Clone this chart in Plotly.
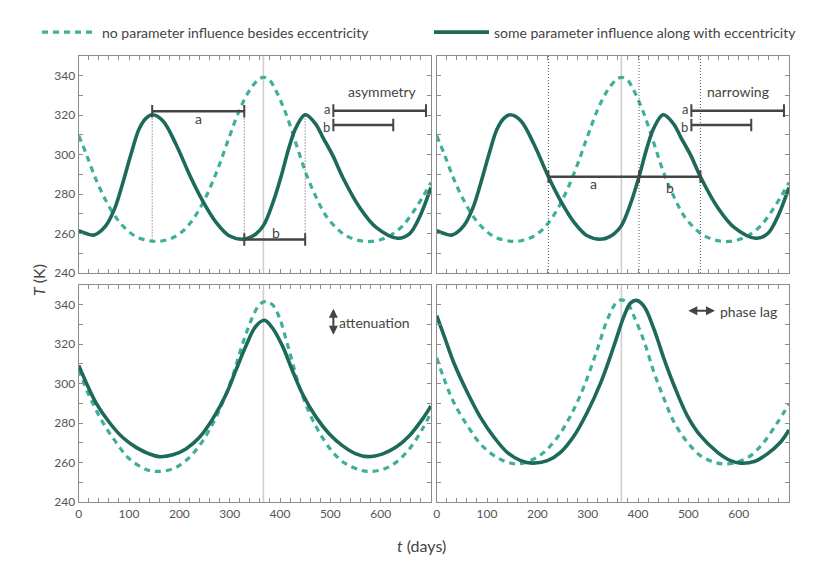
import plotly.graph_objects as go
from plotly.subplots import make_subplots

# ---- data (t in days, T in K) ----
# top panels (asymmetry / narrowing) share the same two curves
top_solid_t = [0, 15, 31, 54, 71, 87, 104, 120, 134, 146, 167, 193, 222, 246, 273, 299, 329,
               352, 367, 385, 402, 418, 432, 450, 471, 485, 505, 524, 558, 591, 634, 657, 677, 700]
top_solid_T = [261.5, 260.0, 259.3, 264.0, 272.4, 285.1, 300.3, 313.0, 318.5, 320.2, 317.2, 305.4,
               288.8, 276.7, 265.7, 258.9, 257.2, 259.8, 264.0, 275.0, 288.8, 303.7, 313.8, 320.2,
               315.5, 308.8, 299.5, 288.8, 273.3, 263.1, 257.6, 259.8, 268.2, 283.4]

top_dash_t = [0, 15, 34, 54, 74, 94, 114, 134, 157, 180, 200, 220, 240, 260, 280, 299, 319, 339,
              356, 367, 379, 392, 412, 432, 452, 472, 491, 511, 531, 558, 581, 604, 624, 644, 664, 683, 700]
top_dash_T = [309.6, 300.3, 287.6, 276.7, 268.2, 262.3, 258.4, 256.7, 256.0, 257.2, 259.8, 264.8,
              272.4, 282.6, 295.2, 308.8, 322.3, 332.4, 337.8, 339.2, 337.8, 332.4, 320.6, 305.4,
              290.2, 278.3, 269.1, 263.1, 258.9, 256.4, 256.0, 257.2, 259.8, 264.0, 270.7, 278.3, 285.9]

# bottom left (attenuation)
att_solid_t = [0, 15, 34, 61, 87, 114, 140, 160, 187, 213, 240, 266, 293, 313, 332, 352, 369,
               385, 405, 425, 445, 472, 498, 524, 551, 574, 604, 630, 657, 683, 700]
att_solid_T = [309.2, 300.5, 290.4, 280.3, 272.8, 267.7, 264.4, 263.0, 263.9, 266.9, 272.8, 282.0,
               294.6, 307.2, 319.0, 329.1, 332.1, 328.2, 319.0, 306.4, 294.6, 282.9, 274.5, 268.6,
               264.4, 263.0, 264.4, 267.7, 273.6, 282.0, 288.7]

att_dash_t = [0, 21, 48, 74, 101, 134, 157, 187, 213, 240, 266, 286, 306, 319, 333, 346, 359, 372,
              385, 399, 412, 425, 438, 458, 478, 505, 531, 558, 574, 604, 631, 657, 683, 700]
att_dash_T = [307.0, 293.8, 280.3, 270.3, 261.8, 256.5, 255.5, 256.8, 261.0, 268.6, 279.5, 290.4,
              303.9, 314.8, 325.7, 334.1, 340.0, 341.7, 340.0, 333.3, 322.4, 310.6, 298.8, 285.4,
              275.3, 265.2, 259.3, 256.3, 255.5, 256.5, 260.2, 266.9, 277.0, 285.4]

# bottom right (phase lag)
lag_solid_t = [0, 15, 34, 61, 87, 114, 140, 167, 190, 220, 246, 273, 299, 326, 352, 372, 385,
               397, 412, 432, 452, 472, 498, 524, 558, 584, 604, 631, 657, 683, 700]
lag_solid_T = [334.5, 324.0, 310.6, 295.5, 282.9, 272.8, 265.2, 261.0, 259.7, 261.0, 265.2, 273.6,
               285.4, 300.5, 319.0, 334.1, 340.8, 342.2, 339.2, 327.4, 312.3, 298.8, 283.7, 273.6,
               265.2, 261.0, 259.7, 260.5, 264.4, 270.3, 276.5]

lag_dash_t = [0, 15, 34, 61, 87, 114, 140, 160, 187, 213, 240, 266, 293, 319, 339, 356, 367, 379,
              392, 412, 432, 452, 472, 498, 524, 551, 571, 597, 624, 650, 677, 700]
lag_dash_T = [313.1, 302.2, 290.4, 278.7, 269.4, 263.5, 260.2, 259.3, 261.0, 265.2, 272.8, 283.7,
              298.8, 317.3, 332.4, 340.8, 342.5, 340.8, 334.1, 321.5, 305.5, 292.1, 280.3, 270.3,
              263.5, 260.2, 259.3, 260.2, 263.5, 270.3, 280.3, 289.6]

x_ticks = [0, 100, 200, 300, 400, 500, 600]
y_ticks = [240, 260, 280, 300, 320, 340]
year_mark = 367

# annotation marks (t, T)
asym_a_t, asym_a_T = [146, 329], 322
asym_b_t, asym_b_T = [329, 450], 257
asym_drop_t = [146, 329, 450]
asym_drop_top = [320, 322, 320]
narrow_t = [222, 402, 524]
narrow_T = 288.8
key_a_t, key_a_T = [506, 690], 322.3
key_b_t, key_b_T = [506, 625], 315

SOLID = "#1d6a5b"
DASH = "#3fae9b"
INK = "#444444"
FRAME = "#8c8c8c"
FONT = "Lato"

fig = make_subplots(rows=2, cols=2)

panels = [
    (1, 1, top_solid_t, top_solid_T, top_dash_t, top_dash_T),
    (1, 2, top_solid_t, top_solid_T, top_dash_t, top_dash_T),
    (2, 1, att_solid_t, att_solid_T, att_dash_t, att_dash_T),
    (2, 2, lag_solid_t, lag_solid_T, lag_dash_t, lag_dash_T),
]
for i, (r, c, st, sT, dt, dT) in enumerate(panels):
    fig.add_trace(go.Scatter(x=dt, y=dT, mode="lines", line_shape="spline",
                             line=dict(color=DASH, width=3.2, dash="6px,5px"),
                             name="no parameter influence besides eccentricity",
                             legend="legend", showlegend=(i == 0)), row=r, col=c)
    fig.add_trace(go.Scatter(x=st, y=sT, mode="lines", line_shape="spline",
                             line=dict(color=SOLID, width=3.6),
                             name="some parameter influence along with eccentricity",
                             legend="legend2", showlegend=(i == 0)), row=r, col=c)


def bar(t, T, r, c, caps=None, width=2.5):
    fig.add_trace(go.Scatter(x=t, y=[T] * len(t), mode="lines", line=dict(color=INK, width=width),
                             showlegend=False, hoverinfo="skip"), row=r, col=c)
    caps = t if caps is None else caps
    fig.add_trace(go.Scatter(x=caps, y=[T] * len(caps), mode="markers",
                             marker=dict(symbol="line-ns", size=9, line=dict(width=2, color=INK)),
                             showlegend=False, hoverinfo="skip"), row=r, col=c)


dotted = dict(color="#555", width=1, dash="1px,2px")

# asymmetry panel
for t, top in zip(asym_drop_t, asym_drop_top):
    fig.add_shape(type="line", x0=t, x1=t, y0=asym_b_T, y1=top, xref="x", yref="y", line=dotted)
bar(asym_a_t, asym_a_T, 1, 1)
bar(asym_b_t, asym_b_T, 1, 1)
for c in (1, 2):
    bar(key_a_t, key_a_T, 1, c)
    bar(key_b_t, key_b_T, 1, c)

# narrowing panel
for t in narrow_t:
    fig.add_shape(type="line", x0=t, x1=t, y0=0, y1=1, xref="x2", yref="y2 domain", line=dotted)
bar([narrow_t[0], narrow_t[-1]], narrow_T, 1, 2, caps=narrow_t)

# year line in every panel
for ax in ["", "2", "3", "4"]:
    fig.add_shape(type="line", x0=year_mark, x1=year_mark, y0=0, y1=1, xref="x" + ax,
                  yref="y" + ax + " domain", layer="below",
                  line=dict(color="#cfcfcf", width=1.6))

txt = dict(family=FONT, size=14, color=INK)
notes = [
    ("x", "y", 238, 318.3, "a", "center"),
    ("x", "y", 392, 260.6, "b", "center"),
    ("x", "y", 603, 332, "asymmetry", "center"),
    ("x2", "y2", 311, 285.3, "a", "center"),
    ("x2", "y2", 464, 283.3, "b", "center"),
    ("x2", "y2", 598, 332, "narrowing", "center"),
    ("x3", "y3", 513, 330.8, "attenuation", "left"),
    ("x4", "y4", 559, 336.8, "phase lag", "left"),
]
for xr, yr, x, y, s, anc in notes:
    fig.add_annotation(x=x, y=y, xref=xr, yref=yr, text=s, showarrow=False,
                       xanchor=anc, font=txt)
key_font = dict(family=FONT, size=13, color=INK)
for xr, yr in (("x", "y"), ("x2", "y2")):
    fig.add_annotation(x=504, y=key_a_T, xref=xr, yref=yr, text="a", showarrow=False,
                       xanchor="right", yanchor="bottom", yshift=-8, font=key_font)
    fig.add_annotation(x=504, y=key_b_T, xref=xr, yref=yr, text="b", showarrow=False,
                       xanchor="right", yanchor="top", yshift=8, font=key_font)

# double arrows
fig.add_annotation(x=506, y=338, ax=506, ay=324, xref="x3", yref="y3", axref="x3", ayref="y3",
                   text="", showarrow=True, arrowside="end+start", arrowhead=2,
                   arrowsize=0.9, arrowwidth=2, arrowcolor=INK)
fig.add_annotation(x=553, y=337, ax=497, ay=337, xref="x4", yref="y4", axref="x4", ayref="y4",
                   text="", showarrow=True, arrowside="end+start", arrowhead=2,
                   arrowsize=0.9, arrowwidth=2, arrowcolor=INK)

# the page body adds an 8 px offset, so lay out in a 823 x 565 paper
W, H = 823, 565
OFF = 8


def px(x):
    return (x - OFF) / W


def py(y):
    return 1 - (y - OFF) / H


# axis titles
fig.add_annotation(x=px(38), y=py(280), xref="paper", yref="paper", text="<i>T</i> (K)",
                   textangle=-90, showarrow=False, xanchor="center", yanchor="middle",
                   font=dict(family=FONT, size=16, color=INK))
fig.add_annotation(x=px(421), y=py(545), xref="paper", yref="paper", text="<i>t</i> (days)",
                   showarrow=False, xanchor="center", yanchor="middle",
                   font=dict(family=FONT, size=16, color=INK))

xdom = [[px(78.7), px(431)], [px(436.7), px(789)]]
ydom = [[py(273), py(56)], [py(502), py(285)]]

axis_style = dict(showline=True, linecolor=FRAME, linewidth=1.2, mirror="allticks",
                  ticks="inside", ticklen=4, tickcolor=FRAME, showgrid=False, zeroline=False,
                  automargin=False, tickfont=dict(family=FONT, size=12, color="#555"))
for k, (r, c) in enumerate([(1, 1), (1, 2), (2, 1), (2, 2)]):
    sfx = "" if k == 0 else str(k + 1)
    fig.layout["xaxis" + sfx].update(domain=xdom[c - 1], range=[0, 700],
                                     tickmode="array", tickvals=x_ticks,
                                     minor=dict(dtick=20, ticks="inside", ticklen=4, tickcolor=FRAME),
                                     showticklabels=(r == 2), **axis_style)
    fig.layout["yaxis" + sfx].update(domain=ydom[r - 1], range=[240, 350],
                                     tickmode="array", tickvals=y_ticks,
                                     minor=dict(dtick=10, ticks="inside", ticklen=4, tickcolor=FRAME),
                                     showticklabels=(c == 1), **axis_style)

leg = dict(orientation="h", y=0.985, xanchor="left", yanchor="top", itemwidth=55,
           font=dict(family=FONT, size=14, color=INK), bgcolor="rgba(0,0,0,0)")
fig.update_layout(
    width=W, height=H,
    margin=dict(l=0, r=0, t=0, b=0),
    paper_bgcolor="white", plot_bgcolor="white",
    font=dict(family=FONT, color=INK),
    legend=dict(x=px(37), **leg),
    legend2=dict(x=px(429), **leg),
)

fig.write_html("out.html")
